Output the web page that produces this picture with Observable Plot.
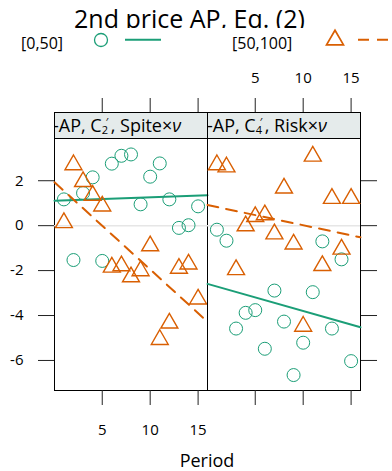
<!DOCTYPE html>
<html>
<head>
<meta charset="utf-8">
<script src="https://cdn.jsdelivr.net/npm/d3@7"></script>
<script src="https://cdn.jsdelivr.net/npm/@observablehq/plot@0.6"></script>
<style>
  html, body { margin: 0; padding: 0; background: #fff; }
  #chart { position: relative; width: 392px; height: 471px; overflow: hidden; font-family: "Open Sans", sans-serif; color: #000; }
  #title { position: absolute; left: 0; top: 0; width: 379px; height: 27.5px; overflow: hidden; }
  #title span { position: absolute; left: 0; top: 9px; width: 379px; text-align: center; font-size: 25px; line-height: 18px; white-space: nowrap; }
  .panel { position: absolute; top: 60px; }
  .strip { position: absolute; top: 112px; width: 154px; height: 27px; box-sizing: border-box; border: 1px solid #000; background: #e5ebeb; overflow: hidden; }
  .strip > .label { position: absolute; top: -1px; font-size: 18px; line-height: 26px; white-space: nowrap; }
  .stack { display: inline-block; position: relative; width: 9px; height: 17px; vertical-align: baseline; }
  .stack .sup { position: absolute; left: 4px; top: 2px; font-size: 11px; line-height: 9px; }
  .stack .sub { position: absolute; left: 0; top: 9px; font-size: 11px; line-height: 11px; }
  .nu { font-style: italic; }
  #legend { position: absolute; left: 0; top: 27px; }
  #xlabel { position: absolute; left: 0; top: 450px; width: 414px; text-align: center; font-size: 18px; line-height: 20px; }
</style>
</head>
<body>
<div id="chart">
  <div id="title"><span>2nd price AP, Eq. (2)</span></div>
  <div id="panels"></div>
  <div id="xlabel">Period</div>
</div>
<script>
// Periods observed in each panel
const periods = [1, 2, 3, 4, 5, 6, 7, 8, 9, 10, 11, 12, 13, 14, 15];

// Groups (bid range), their colours and symbols
const groups = ["[0,50]", "[50,100]"];
const groupColors = ["#1b9e77", "#d95f02"];
const groupSymbols = ["circle", "triangle"];

// Panel strip labels: prefix, subscript index, suffix
const stripPrefix = ["-AP, C", "-AP, C"];
const stripIndex = ["2", "4"];
const stripSuffix = [", Spite", ", Risk"];

// Residual values per period — Spite×ν panel
const spiteLow  = [1.17, -1.53, 1.45, 2.15, -1.57, 2.76, 3.11, 3.17, 0.95, 2.18, 2.77, 1.17, -0.10, 0.02, 0.86];
const spiteHigh = [0.13, 2.71, 1.96, 1.35, 0.87, -1.85, -1.79, -2.28, -2.01, -0.90, -5.07, -4.34, -1.90, -1.71, -3.27];
// Risk×ν panel
const riskLow  = [-0.18, -0.67, -4.58, -3.88, -3.76, -5.48, -2.89, -4.27, -6.65, -5.21, -2.96, -0.70, -4.58, -1.50, -6.03];
const riskHigh = [2.71, 2.61, -1.96, -0.01, 0.40, 0.48, -0.37, 1.67, -0.82, -4.48, 3.09, -1.78, 1.21, -1.05, 1.21];

// Fitted trend per group: intercept (period 0) and slope
const spiteIntercepts = [1.11, 1.94];
const spiteSlopes = [0.015, -0.389];
const riskIntercepts = [-2.59, 0.92];
const riskSlopes = [-0.121, -0.090];

// Tick values
const xTicks = [5, 10, 15];
const yTicks = [-6, -4, -2, 0, 2];

const panelValues = [[spiteLow, spiteHigh], [riskLow, riskHigh]];
const panelIntercepts = [spiteIntercepts, riskIntercepts];
const panelSlopes = [spiteSlopes, riskSlopes];

// Shared domains with 7% padding on each side
function padded([a, b]) { const p = (b - a) * 0.07; return [a - p, b + p]; }
const xDomain = padded(d3.extent(periods));
const yDomain = padded(d3.extent(panelValues.flat(2)));

const dashes = [null, "11,8"];
const radii = [6.5, 6.3];
const strokeWidths = [1, 1.4];

function rows(values, g) {
  return periods.map((p, i) => ({period: p, value: values[i], group: groups[g]}));
}
function trend(intercept, slope) {
  return xDomain.map(x => ({period: x, value: intercept + slope * x}));
}

// Layout of the two panels
const layout = [
  {left: 0, width: 215, marginLeft: 54, marginRight: 8, stripLeft: 54, textLeft: -2},
  {left: 200, width: 192, marginLeft: 7, marginRight: 32, stripLeft: 207, textLeft: -1}
];

const fmt = d => String(d);
const container = document.getElementById("panels");

layout.forEach((L, k) => {
  const marks = [
    Plot.frame({stroke: "#000"}),
    Plot.ruleY([0], {stroke: "#e6e6e6", strokeWidth: 1.5})
  ];
  groups.forEach((g, gi) => {
    marks.push(Plot.dot(rows(panelValues[k][gi], gi), {
      x: "period", y: "value", symbol: () => groupSymbols[gi], r: radii[gi],
      stroke: groupColors[gi], strokeWidth: strokeWidths[gi], fill: "none"
    }));
    marks.push(Plot.line(trend(panelIntercepts[k][gi], panelSlopes[k][gi]), {
      x: "period", y: "value", stroke: groupColors[gi], strokeWidth: 2,
      strokeDasharray: dashes[gi]
    }));
  });
  const tickStyle = {stroke: "#222", strokeWidth: 1};
  if (k === 0) {
    marks.push(
      Plot.axisY({anchor: "left", ticks: yTicks, tickSize: 16, tickPadding: 15, tickFormat: fmt, label: null, fontSize: 15, ...tickStyle}),
      Plot.axisX({anchor: "bottom", ticks: xTicks, tickSize: 15, tickPadding: 19, tickFormat: fmt, label: null, fontSize: 15, ...tickStyle}),
      Plot.axisX({anchor: "top", ticks: xTicks, tickSize: 15, fill: "none", label: null, ...tickStyle})
    );
  } else {
    marks.push(
      Plot.axisY({anchor: "right", ticks: yTicks, tickSize: 16, fill: "none", label: null, ...tickStyle}),
      Plot.axisX({anchor: "bottom", ticks: xTicks, tickSize: 15, fill: "none", label: null, ...tickStyle}),
      Plot.axisX({anchor: "top", ticks: xTicks, tickSize: 15, tickPadding: 15, tickFormat: fmt, label: null, fontSize: 15, ...tickStyle})
    );
  }
  const chart = Plot.plot({
    width: L.width,
    height: 390,
    marginLeft: L.marginLeft,
    marginRight: L.marginRight,
    marginTop: 52,
    marginBottom: 60,
    x: {domain: xDomain, label: null},
    y: {domain: yDomain, range: [330, 78.5], label: null},
    symbol: {domain: groupSymbols, range: groupSymbols},
    style: {fontFamily: "Open Sans", fontSize: "15px", background: "transparent", overflow: "visible"},
    marks
  });
  chart.classList.add("panel");
  chart.style.left = L.left + "px";
  container.appendChild(chart);

  // strip label above the panel
  const strip = document.createElement("div");
  strip.className = "strip";
  strip.style.left = L.stripLeft + "px";
  const span = document.createElement("span");
  span.className = "label";
  span.style.left = L.textLeft + "px";
  span.innerHTML = `${stripPrefix[k]}<span class="stack"><span class="sup">′</span><span class="sub">${stripIndex[k]}</span></span>${stripSuffix[k]}×<span class="nu">ν</span>`;
  strip.appendChild(span);
  container.appendChild(strip);
});

// Key above the panels
const legendX = [{text: 21, sym: 101, line: [125, 161]}, {text: 232, sym: 335, line: [358, 394]}];
const legend = d3.select("#chart").append("svg")
  .attr("id", "legend").attr("width", 392).attr("height", 30)
  .style("font-family", "Open Sans").style("font-size", "16px");
groups.forEach((g, gi) => {
  const pos = legendX[gi];
  legend.append("text").attr("x", pos.text).attr("y", 21.5).text(g);
  legend.append("path")
    .attr("transform", `translate(${pos.sym},${13})`)
    .attr("d", d3.symbol(gi ? d3.symbolTriangle : d3.symbolCircle, Math.PI * radii[gi] ** 2)())
    .attr("fill", "none").attr("stroke", groupColors[gi]).attr("stroke-width", strokeWidths[gi] + 0.3);
  legend.append("line")
    .attr("x1", pos.line[0]).attr("x2", pos.line[1]).attr("y1", 12.7).attr("y2", 12.7)
    .attr("stroke", groupColors[gi]).attr("stroke-width", 2)
    .attr("stroke-dasharray", dashes[gi]);
});
</script>
</body>
</html>
